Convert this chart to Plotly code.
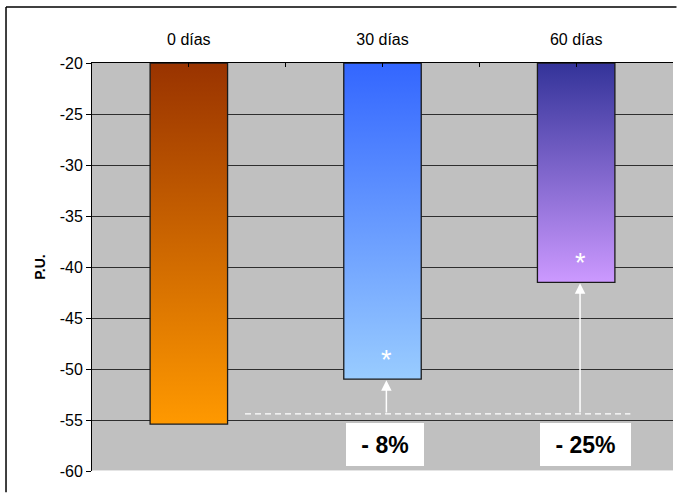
import plotly.graph_objects as go

# Data
categories = ["0 días", "30 días", "60 días"]
pu_values = [-55.4, -51.0, -41.5]
change_labels = ["", "- 8%", "- 25%"]
significant = [False, True, True]
top_colors = ["#993300", "#3366FF", "#333399"]
bottom_colors = ["#FF9900", "#99CCFF", "#CC99FF"]
y_ticks = [-60, -55, -50, -45, -40, -35, -30, -25, -20]
axis_top = -20
axis_bottom = -60
reference_level = -54.4

BAR_HALF = 0.2
FONT = "Liberation Sans, Arial, sans-serif"

fig = go.Figure()

# Bars hanging from the top of the axis, each with a vertical gradient fill
for i, (cat, v) in enumerate(zip(categories, pu_values)):
    xs = [i - BAR_HALF, i + BAR_HALF, i + BAR_HALF, i - BAR_HALF, i - BAR_HALF]
    ys = [axis_top, axis_top, v, v, axis_top]
    fig.add_trace(go.Scatter(
        x=xs, y=ys, mode="lines", fill="toself",
        fillgradient=dict(type="vertical", start=v, stop=axis_top,
                          colorscale=[[0, bottom_colors[i]], [1, top_colors[i]]]),
        line=dict(color="#1a1a1a", width=1.3),
        name=cat, showlegend=False, hoverinfo="skip",
    ))

# Dashed reference line at the baseline level
fig.add_shape(type="line", xref="x", yref="y", x0=0.29, x1=2.28,
              y0=reference_level, y1=reference_level,
              line=dict(color="white", width=1.2, dash="6px,4px"))

# Light bottom edge of the plot area
fig.add_shape(type="line", xref="paper", yref="y", x0=0, x1=1,
              y0=axis_bottom, y1=axis_bottom,
              line=dict(color="#e4e4e4", width=2))

# Outer frame: left and top edges, kept inside the page
fig.add_shape(type="line", xref="paper", yref="paper",
              x0=-0.148, x1=-0.148, y0=-0.052, y1=1.137,
              line=dict(color="black", width=1.5))
fig.add_shape(type="line", xref="paper", yref="paper",
              x0=-0.148, x1=1.006, y0=1.137, y1=1.137,
              line=dict(color="black", width=1.5))

box_widths = {1: 78, 2: 91}
box_x = {1: 1.015, 2: 2.046}
for i, v in enumerate(pu_values):
    if not change_labels[i]:
        continue
    # Arrow from the reference level up to the bar end
    fig.add_annotation(x=i + 0.02, y=v, ax=i + 0.02, ay=reference_level,
                       xref="x", yref="y", axref="x", ayref="y",
                       text="", showarrow=True, arrowhead=2, arrowsize=1.4,
                       arrowwidth=1.5, arrowcolor="white", standoff=1)
    # Percentage change box
    fig.add_annotation(x=box_x[i], y=-57.4, xref="x", yref="y",
                       text="<b>" + change_labels[i] + "</b>", showarrow=False,
                       font=dict(family=FONT, size=23, color="black"),
                       bgcolor="white", borderwidth=0, borderpad=0,
                       width=box_widths[i], height=43, align="center",
                       valign="middle")

# Significance markers inside the bars
for i, v in enumerate(pu_values):
    if significant[i]:
        fig.add_annotation(x=i + 0.02, y=v, xref="x", yref="y", text="*",
                           showarrow=False, yanchor="bottom", yshift=2,
                           font=dict(family=FONT, size=27, color="white"))

fig.update_layout(
    width=677, height=493,
    margin=dict(l=92, r=4, t=63, b=22),
    paper_bgcolor="white", plot_bgcolor="#C0C0C0",
    font=dict(family=FONT, size=16, color="black"),
    showlegend=False,
)

fig.update_xaxes(
    side="top", range=[-0.5, 2.5], tickmode="array",
    tickvals=list(range(len(categories))), ticktext=categories,
    tickfont=dict(size=16),
    ticks="inside", ticklen=4, tickcolor="black", tickwidth=1,
    minor=dict(tickmode="array", tickvals=[0.5, 1.5], ticks="inside",
               ticklen=4, tickcolor="black"),
    showline=True, linecolor="black", linewidth=1, showgrid=False,
    zeroline=False, ticklabelstandoff=11, fixedrange=True,
)

fig.update_yaxes(
    range=[axis_bottom, axis_top], tickmode="array",
    tickvals=y_ticks, ticktext=[str(t) for t in y_ticks],
    tickfont=dict(size=16),
    ticks="outside", ticklen=5, tickcolor="black",
    showline=True, linecolor="black", linewidth=1,
    showgrid=True, gridcolor="#2e2e2e", gridwidth=1, zeroline=False,
    title=dict(text="<b>P.U.</b>", font=dict(size=14), standoff=10),
    fixedrange=True,
)

fig.write_html("out.html")
